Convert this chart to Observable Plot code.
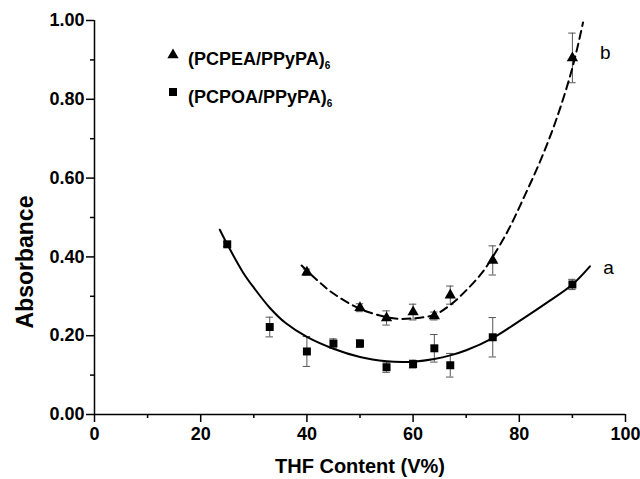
<!DOCTYPE html>
<html><head><meta charset="utf-8">
<script src="https://cdn.jsdelivr.net/npm/d3@7"></script>
<script src="https://cdn.jsdelivr.net/npm/@observablehq/plot@0.6"></script>
<style>body{margin:0;background:#fff} svg{display:block}</style>
</head><body><div id="chart"></div>
<script>
// Series a: (PCPOA/PPyPA)6 — squares
const thfA = [25, 33, 40, 45, 50, 55, 60, 64, 67, 75, 90];
const absA = [0.432, 0.222, 0.160, 0.180, 0.180, 0.120, 0.128, 0.168, 0.125, 0.196, 0.330];
const errA = [0.006, 0.025, 0.038, 0.012, 0.010, 0.013, 0.010, 0.035, 0.030, 0.050, 0.013];
// Series b: (PCPEA/PPyPA)6 — triangles
const thfB = [40, 50, 55, 60, 64, 67, 75, 90];
const absB = [0.361, 0.271, 0.245, 0.260, 0.250, 0.303, 0.391, 0.905];
const errB = [0.008, 0.010, 0.018, 0.020, 0.010, 0.023, 0.037, 0.063];
// Fitted curves
const fitAx = [23.6, 25, 28, 30, 33, 36, 40, 45, 50, 55, 58, 60, 64, 67, 70, 75, 80, 85, 90, 93.3];
const fitAy = [0.469, 0.432, 0.360, 0.322, 0.271, 0.232, 0.197, 0.167, 0.146, 0.135, 0.133, 0.134, 0.141, 0.150, 0.163, 0.194, 0.237, 0.282, 0.330, 0.376];
const fitBx = [39, 42, 45, 50, 55, 57, 60, 64, 67, 70, 73, 75, 78, 81, 84, 87, 90, 92];
const fitBy = [0.378, 0.340, 0.307, 0.268, 0.247, 0.243, 0.244, 0.253, 0.278, 0.315, 0.360, 0.400, 0.470, 0.555, 0.645, 0.750, 0.880, 0.995];
// Text
const seriesNames = ["(PCPEA/PPyPA)", "(PCPOA/PPyPA)"];
const seriesSub = "6";
const curveLabels = ["a", "b"];
const curveLabelX = [96.8, 96.2];
const curveLabelY = [0.373, 0.919];
const xTitle = "THF Content (V%)";
const yTitle = "Absorbance";
const xTicks = [0, 20, 40, 60, 80, 100];
const xMinor = [10, 30, 50, 70, 90];
const yTicks = [0, 0.2, 0.4, 0.6, 0.8, 1.0];
const yMinor = [0.1, 0.3, 0.5, 0.7, 0.9];

const ptsA = thfA.map((x, i) => ({x, y: absA[i], e: errA[i]}));
const ptsB = thfB.map((x, i) => ({x, y: absB[i], e: errB[i]}));
const fitA = fitAx.map((x, i) => ({x, y: fitAy[i]}));
const fitB = fitBx.map((x, i) => ({x, y: fitBy[i]}));
const labs = curveLabels.map((t, i) => ({t, x: curveLabelX[i], y: curveLabelY[i]}));

const font = "'Liberation Sans', Arial, Helvetica, sans-serif";
const errStroke = "#555";
const cap = 0.7;

const chart = Plot.plot({
  width: 640, height: 479,
  marginLeft: 94, marginRight: 15, marginTop: 20, marginBottom: 65,
  x: {domain: [0, 100]},
  y: {domain: [0, 1]},
  style: {fontFamily: font, fontSize: "18px", fontWeight: "bold", color: "#000", background: "#fff"},
  marks: [
    Plot.axisX(xTicks, {tickSize: 8, tickPadding: 5, tickFormat: d => String(d), label: null, strokeWidth: 1.5, fontSize: 18, fontWeight: "bold"}),
    Plot.axisX(xMinor, {tickSize: 4, tickFormat: () => "", label: null, strokeWidth: 1.5}),
    Plot.axisY(yTicks, {tickSize: 8, tickPadding: 2, tickFormat: d3.format(".2f"), label: null, strokeWidth: 1.5, fontSize: 18, fontWeight: "bold"}),
    Plot.axisY(yMinor, {tickSize: 4, tickFormat: () => "", label: null, strokeWidth: 1.5}),
    Plot.ruleY([0], {stroke: "#000", strokeWidth: 1.5}),
    Plot.ruleX([0], {y1: 0, y2: 1, stroke: "#000", strokeWidth: 1.5}),
    // error bars
    Plot.ruleX(ptsA, {x: "x", y1: d => d.y - d.e, y2: d => d.y + d.e, stroke: errStroke, strokeWidth: 1}),
    Plot.ruleY(ptsA, {y: d => d.y - d.e, x1: d => d.x - cap, x2: d => d.x + cap, stroke: errStroke, strokeWidth: 1}),
    Plot.ruleY(ptsA, {y: d => d.y + d.e, x1: d => d.x - cap, x2: d => d.x + cap, stroke: errStroke, strokeWidth: 1}),
    Plot.ruleX(ptsB, {x: "x", y1: d => d.y - d.e, y2: d => d.y + d.e, stroke: errStroke, strokeWidth: 1}),
    Plot.ruleY(ptsB, {y: d => d.y - d.e, x1: d => d.x - cap, x2: d => d.x + cap, stroke: errStroke, strokeWidth: 1}),
    Plot.ruleY(ptsB, {y: d => d.y + d.e, x1: d => d.x - cap, x2: d => d.x + cap, stroke: errStroke, strokeWidth: 1}),
    // fitted curves
    Plot.line(fitA, {x: "x", y: "y", curve: "catmull-rom", stroke: "#000", strokeWidth: 2}),
    Plot.line(fitB, {x: "x", y: "y", curve: "catmull-rom", stroke: "#000", strokeWidth: 2, strokeDasharray: "8,5"}),
    // points
    Plot.dot(ptsA, {x: "x", y: "y", symbol: "square", r: 4.5, fill: "#000", stroke: "none"}),
    Plot.dot(ptsB, {x: "x", y: "y", symbol: "triangle", r: 4.2, fill: "#000", stroke: "none"}),
    // curve labels
    Plot.text(labs, {x: "x", y: "y", text: "t", fontSize: 19, fontWeight: "normal", fill: "#000"})
  ]
});

const svg = d3.select(chart);
// legend
const leg = svg.append("g").attr("font-family", font).attr("font-weight", "bold").attr("text-anchor", "start");
const legRows = [
  {sym: d3.symbolTriangle, size: 55, sx: 173, sy: 55, tx: 188, ty: 65, name: seriesNames[0]},
  {sym: d3.symbolSquare, size: 64, sx: 173, sy: 92, tx: 188, ty: 102.5, name: seriesNames[1]}
];
legRows.forEach(r => {
  leg.append("path").attr("d", d3.symbol(r.sym, r.size)()).attr("transform", `translate(${r.sx},${r.sy})`).attr("fill", "#000");
  const t = leg.append("text").attr("x", r.tx).attr("y", r.ty).attr("font-size", 18).attr("fill", "#000").attr("text-anchor", "start");
  t.append("tspan").text(r.name);
  t.append("tspan").attr("font-size", 10).attr("dy", 4).text(seriesSub);
});
// axis titles
svg.append("text").attr("x", 360).attr("y", 473).attr("text-anchor", "middle")
  .attr("font-family", font).attr("font-weight", "bold").attr("font-size", 20).attr("fill", "#000").text(xTitle);
svg.append("text").attr("transform", "translate(33,262) rotate(-90)").attr("text-anchor", "middle")
  .attr("font-family", font).attr("font-weight", "bold").attr("font-size", 23).attr("fill", "#000").text(yTitle);

document.getElementById("chart").appendChild(chart);
</script>
</body></html>
